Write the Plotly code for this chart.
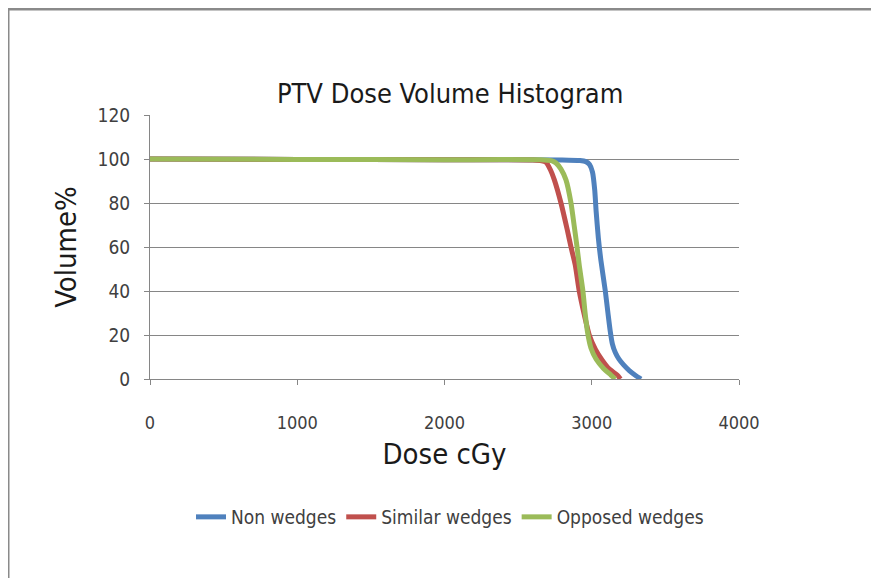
import plotly.graph_objects as go

# Dose (cGy) and Volume (%) for each series
non_dose = [0, 1000, 2000, 2800, 2920, 2960, 2985, 3005, 3020, 3030, 3045, 3062, 3092, 3110, 3125, 3140, 3160, 3185, 3215, 3255, 3300, 3335]
non_vol = [100, 99.8, 99.7, 99.6, 99.3, 98.8, 97.5, 94, 86, 76, 64, 54, 40, 30, 22, 16, 12, 9, 6.5, 3.8, 1.5, 0]

sim_dose = [0, 1000, 2000, 2600, 2660, 2690, 2720, 2746, 2791, 2834, 2859, 2888, 2915, 2950, 2983, 3025, 3071, 3120, 3173, 3195]
sim_vol = [100, 99.8, 99.7, 99.6, 99.2, 98.5, 95, 90.5, 80, 67.7, 60, 51.8, 40, 29, 20, 13.5, 8.6, 4.5, 1.8, 0]

opp_dose = [0, 1000, 2000, 2680, 2730, 2757, 2790, 2825, 2859, 2880, 2900, 2915, 2940, 2955, 2972, 2995, 3030, 3080, 3130, 3160]
opp_vol = [100, 99.8, 99.7, 99.6, 99.2, 98.2, 95.5, 90.5, 80, 70, 60, 51.8, 40, 30, 21, 14, 9, 4.8, 1.8, 0]

series_names = ["Non wedges", "Similar wedges", "Opposed wedges"]
series_colors = ["#4F81BD", "#C0504D", "#9BBB59"]

x_ticks = [0, 1000, 2000, 3000, 4000]
y_ticks = [0, 20, 40, 60, 80, 100, 120]

FONT = "DejaVu Sans Condensed, Liberation Sans Narrow, Open Sans, sans-serif"

fig = go.Figure()
for name, xs, ys, col in zip(series_names, [non_dose, sim_dose, opp_dose],
                             [non_vol, sim_vol, opp_vol], series_colors):
    fig.add_trace(go.Scatter(x=xs, y=ys, mode="lines", name=name,
                             line=dict(color=col, width=5, shape="spline", smoothing=0.6)))

# page body has an 8px margin, so work in figure coords = screen - 8
OFF = 8
W, H = 879 - OFF, 578 - OFF
L, R, T, B = 150 - OFF, 739 - OFF, 115 - OFF, 379 - OFF


def px(xp):
    return (xp - OFF - L) / (R - L)


def py(yp):
    return (B - (yp - OFF)) / (B - T)


fig.update_layout(
    width=W, height=H,
    margin=dict(l=L, r=W - R, t=T, b=H - B),
    paper_bgcolor="white", plot_bgcolor="white",
    font=dict(family=FONT, color="#404040"),
    title=dict(text="PTV Dose Volume Histogram", x=px(449), xanchor="center",
               y=1 - (94 - OFF) / H, yanchor="middle",
               font=dict(size=27, color="#1a1a1a", family=FONT)),
    xaxis=dict(range=[0, 4000], tickvals=x_ticks, showgrid=False, zeroline=False,
               showline=True, linecolor="#868686", linewidth=1,
               ticks="outside", ticklen=5, tickcolor="#868686",
               tickfont=dict(size=18, color="#404040"), ticklabelstandoff=22,
               title=dict(text="Dose cGy", font=dict(size=29, color="#1a1a1a"), standoff=12)),
    yaxis=dict(range=[0, 120], tickvals=y_ticks, showgrid=True, gridcolor="#868686", gridwidth=1,
               zeroline=False, showline=True, linecolor="#868686", linewidth=1,
               ticks="outside", ticklen=5, tickcolor="#868686",
               tickfont=dict(size=19, color="#404040"), ticklabelstandoff=10,
               title=dict(text="Volume%", font=dict(size=29, color="#1a1a1a"), standoff=12)),
    legend=dict(orientation="h", x=px(450), xanchor="center", y=py(517), yanchor="middle",
                font=dict(size=19, color="#404040"), itemwidth=30, tracegroupgap=0,
                bgcolor="rgba(0,0,0,0)"),
    showlegend=True,
)

# outer frame (top and left edges)
fig.add_shape(type="line", xref="paper", yref="paper", x0=px(8), x1=px(879), y0=py(9), y1=py(9),
              line=dict(color="#8a8a8a", width=3), layer="above")
fig.add_shape(type="line", xref="paper", yref="paper", x0=px(8), x1=px(8), y0=py(9), y1=py(578),
              line=dict(color="#8a8a8a", width=3), layer="above")

fig.write_html("out.html")
